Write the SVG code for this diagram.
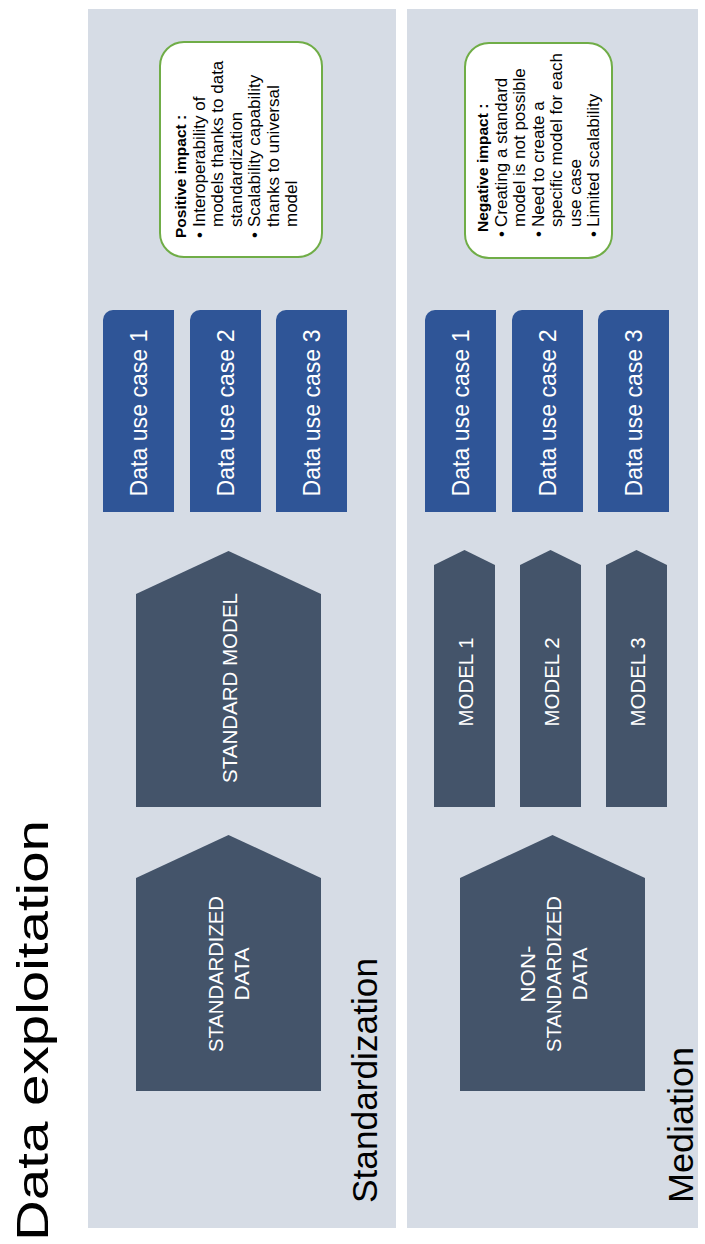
<svg xmlns="http://www.w3.org/2000/svg" width="705" height="1244" viewBox="0 0 705 1244">
<style>
.panel{fill:#D6DCE5}
.dark{fill:#44546A}
.blue{fill:#2F5597}
.impact{fill:#FFFFFF;stroke:#70AD47;stroke-width:2}
.wt{fill:#FFFFFF;font-family:"Liberation Sans",Arial,sans-serif}
.bt{fill:#000000;font-family:"Liberation Sans",Arial,sans-serif}
.uc{font-size:23px;text-anchor:middle}
.nm{font-size:20px;text-anchor:middle}
.it{font-size:17px}
.hd{font-size:15.5px;font-weight:bold}
</style>
<rect width="705" height="1244" fill="#FFFFFF"/>
<g id="panel-standardization">
<rect class="panel" x="88" y="9" width="308" height="1219"/>
</g>
<g id="panel-mediation">
<rect class="panel" x="407" y="9" width="291" height="1219"/>
</g>
<g id="title">
<text class="bt" transform="translate(48,1241) rotate(-90)" font-size="44" textLength="421" lengthAdjust="spacingAndGlyphs">Data exploitation</text>
</g>
<g id="label-standardization">
<text class="bt" transform="translate(377,1203) rotate(-90)" font-size="35" textLength="245" lengthAdjust="spacingAndGlyphs">Standardization</text>
</g>
<g id="label-mediation">
<text class="bt" transform="translate(693,1203) rotate(-90)" font-size="35" textLength="156" lengthAdjust="spacingAndGlyphs">Mediation</text>
</g>
<g id="connectors"></g>
<g id="standardized-data">
<polygon class="dark" points="136,878 228.5,835 321,878 321,1091 136,1091"/>
<text class="wt nm" transform="translate(223,974) rotate(-90)" textLength="156" lengthAdjust="spacingAndGlyphs">STANDARDIZED</text>
<text class="wt nm" transform="translate(249,974) rotate(-90)" textLength="53" lengthAdjust="spacingAndGlyphs">DATA</text>
</g>
<g id="standard-model">
<polygon class="dark" points="136,594 228.5,551 321,594 321,807 136,807"/>
<text class="wt nm" transform="translate(237,688) rotate(-90)" textLength="190" lengthAdjust="spacingAndGlyphs">STANDARD MODEL</text>
</g>
<g id="std-use-case-1">
<path class="blue" d="M103,320 A10,10 0 0 1 113,310 H174 V512 H103 Z"/>
<text class="wt uc" transform="translate(146.5,413) rotate(-90)" textLength="167" lengthAdjust="spacingAndGlyphs">Data use case 1</text>
</g>
<g id="std-use-case-2">
<path class="blue" d="M190,320 A10,10 0 0 1 200,310 H261 V512 H190 Z"/>
<text class="wt uc" transform="translate(233.5,413) rotate(-90)" textLength="167" lengthAdjust="spacingAndGlyphs">Data use case 2</text>
</g>
<g id="std-use-case-3">
<path class="blue" d="M276,320 A10,10 0 0 1 286,310 H347 V512 H276 Z"/>
<text class="wt uc" transform="translate(319.5,413) rotate(-90)" textLength="167" lengthAdjust="spacingAndGlyphs">Data use case 3</text>
</g>
<g id="positive-impact">
<rect class="impact" x="160" y="42" width="162" height="215" rx="24" ry="24"/>
<text class="bt hd" transform="translate(186,238) rotate(-90)">Positive impact :</text>
<text class="bt it" transform="translate(204.5,238) rotate(-90)">•</text>
<text class="bt it" transform="translate(204.5,227) rotate(-90)">Interoperability of</text>
<text class="bt it" transform="translate(223,227) rotate(-90)">models thanks to data</text>
<text class="bt it" transform="translate(241.5,227) rotate(-90)">standardization</text>
<text class="bt it" transform="translate(260,238) rotate(-90)">•</text>
<text class="bt it" transform="translate(260,227) rotate(-90)">Scalability capability</text>
<text class="bt it" transform="translate(278.5,227) rotate(-90)">thanks to universal</text>
<text class="bt it" transform="translate(297,227) rotate(-90)">model</text>
</g>
<g id="non-standardized-data">
<polygon class="dark" points="460,878 552.5,835 645,878 645,1091 460,1091"/>
<text class="wt nm" transform="translate(535,974) rotate(-90)" textLength="57" lengthAdjust="spacingAndGlyphs">NON-</text>
<text class="wt nm" transform="translate(561,974) rotate(-90)" textLength="156" lengthAdjust="spacingAndGlyphs">STANDARDIZED</text>
<text class="wt nm" transform="translate(587,974) rotate(-90)" textLength="53" lengthAdjust="spacingAndGlyphs">DATA</text>
</g>
<g id="model-1">
<polygon class="dark" points="434,565 464.5,550 495,565 495,807 434,807"/>
<text class="wt nm" transform="translate(473,682) rotate(-90)" textLength="89" lengthAdjust="spacingAndGlyphs">MODEL 1</text>
</g>
<g id="model-2">
<polygon class="dark" points="520,565 550.5,550 581,565 581,807 520,807"/>
<text class="wt nm" transform="translate(559,682) rotate(-90)" textLength="89" lengthAdjust="spacingAndGlyphs">MODEL 2</text>
</g>
<g id="model-3">
<polygon class="dark" points="606,565 636.5,550 667,565 667,807 606,807"/>
<text class="wt nm" transform="translate(645,682) rotate(-90)" textLength="89" lengthAdjust="spacingAndGlyphs">MODEL 3</text>
</g>
<g id="med-use-case-1">
<path class="blue" d="M425,320 A10,10 0 0 1 435,310 H496 V512 H425 Z"/>
<text class="wt uc" transform="translate(468.5,413) rotate(-90)" textLength="167" lengthAdjust="spacingAndGlyphs">Data use case 1</text>
</g>
<g id="med-use-case-2">
<path class="blue" d="M512,320 A10,10 0 0 1 522,310 H583 V512 H512 Z"/>
<text class="wt uc" transform="translate(555.5,413) rotate(-90)" textLength="167" lengthAdjust="spacingAndGlyphs">Data use case 2</text>
</g>
<g id="med-use-case-3">
<path class="blue" d="M598,320 A10,10 0 0 1 608,310 H669 V512 H598 Z"/>
<text class="wt uc" transform="translate(641.5,413) rotate(-90)" textLength="167" lengthAdjust="spacingAndGlyphs">Data use case 3</text>
</g>
<g id="negative-impact">
<rect class="impact" x="465" y="43" width="147" height="215" rx="24" ry="24"/>
<text class="bt hd" transform="translate(488,232) rotate(-90)">Negative impact :</text>
<text class="bt it" transform="translate(506.5,237) rotate(-90)">•</text>
<text class="bt it" transform="translate(506.5,227) rotate(-90)">Creating a standard</text>
<text class="bt it" transform="translate(525,227) rotate(-90)">model is not possible</text>
<text class="bt it" transform="translate(543.5,237) rotate(-90)">•</text>
<text class="bt it" transform="translate(543.5,227) rotate(-90)">Need to create a</text>
<text class="bt it" transform="translate(562,227) rotate(-90)">specific model for each</text>
<text class="bt it" transform="translate(580.5,227) rotate(-90)">use case</text>
<text class="bt it" transform="translate(599,237) rotate(-90)">•</text>
<text class="bt it" transform="translate(599,227) rotate(-90)">Limited scalability</text>
</g>
</svg>
